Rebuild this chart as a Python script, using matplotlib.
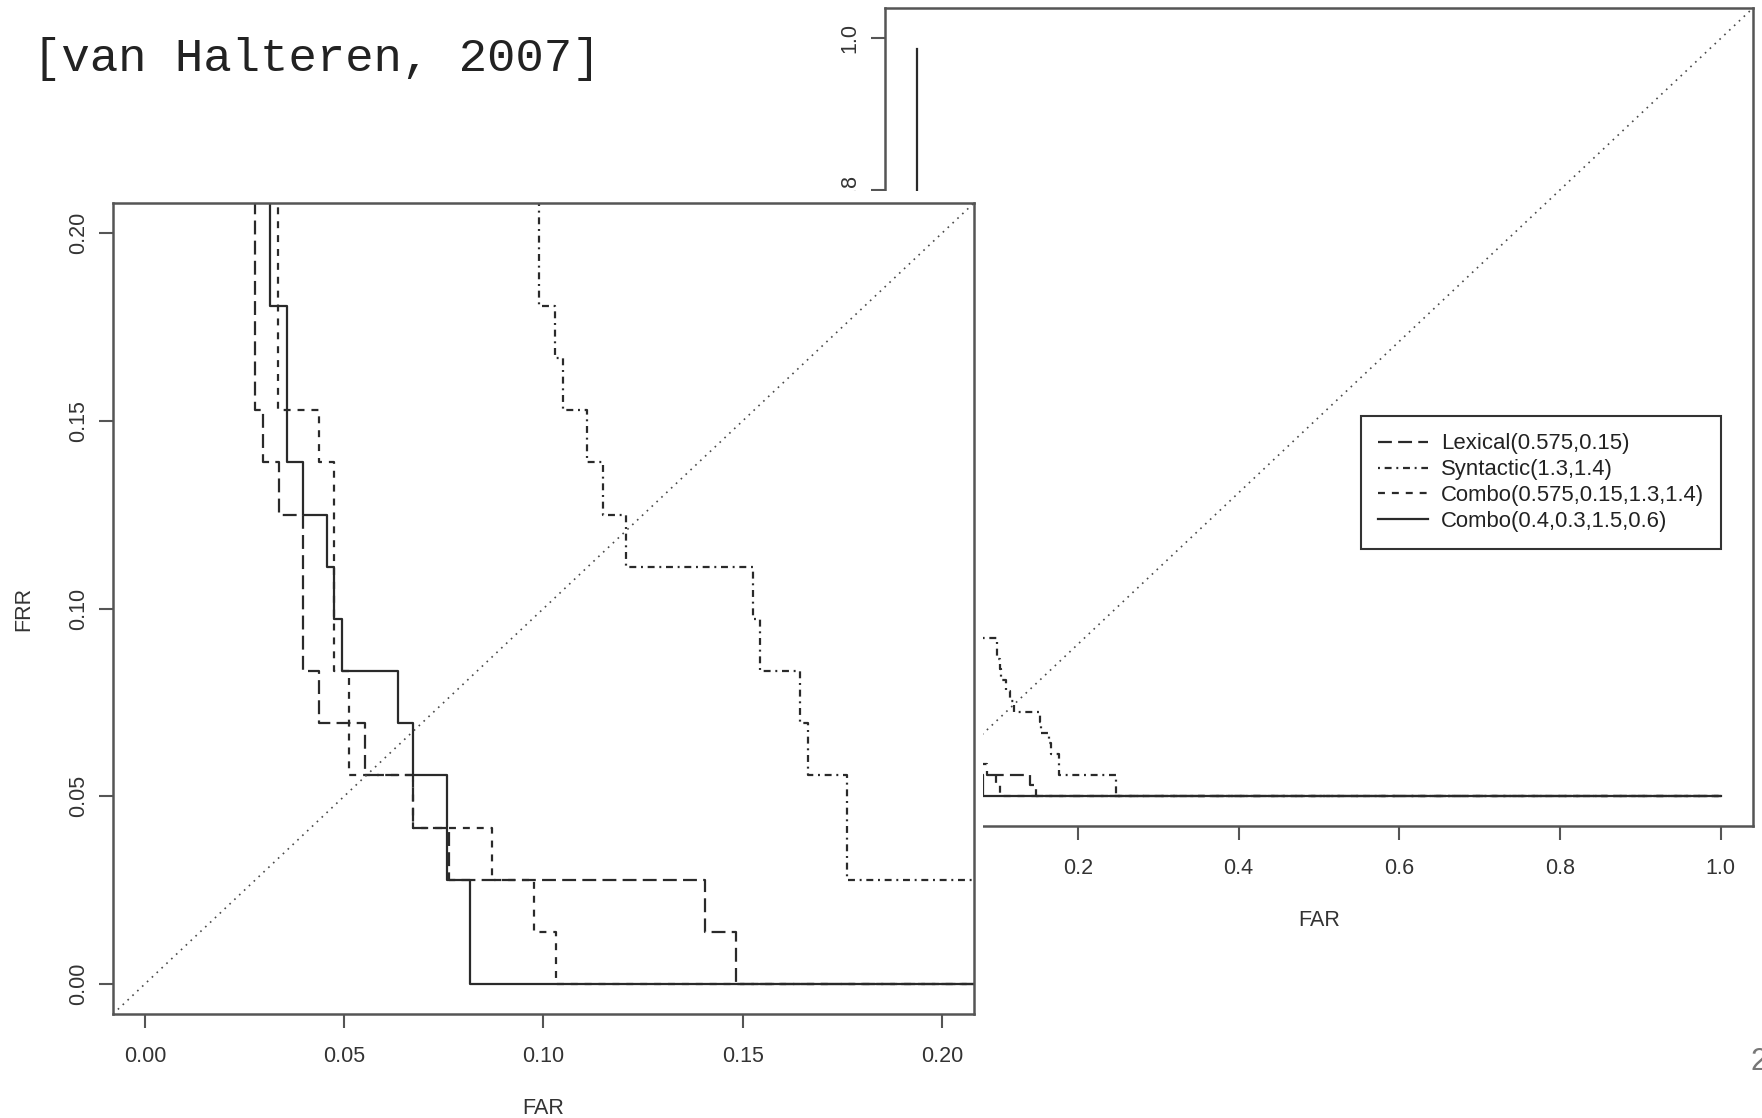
# -*- coding: utf-8 -*-

'''
FAR / FRR step curves for the verification runs (full range + zoom on the low corner)
'''

# imports
import numpy as np
import matplotlib
matplotlib.use('Agg')
import matplotlib.pyplot as plt
from matplotlib.patches import Rectangle

plt.rcParams['font.family'] = ['Liberation Sans', 'DejaVu Sans']
plt.rcParams['lines.scale_dashes'] = False

################################################################################

# FRR is counted in rejected texts out of N_TRUE
N_TRUE = 72

# step curves: FAR of each vertical drop, and the FRR count of the level that leads to it
lexical_far = [0.0277, 0.0296, 0.0336, 0.0396, 0.0436, 0.0551, 0.0672, 0.0763, 0.1406, 0.1484, 1.0]
lexical_err = [22, 11, 10, 9, 6, 5, 4, 3, 2, 1, 0]

syntactic_far = [0.060, 0.0989, 0.1029, 0.1049, 0.1109, 0.1150, 0.1207, 0.1526, 0.1543, 0.1643,
                 0.1664, 0.1762, 0.248, 1.0]
syntactic_err = [22, 15, 13, 12, 11, 10, 9, 8, 7, 6, 5, 4, 2, 0]

combo1_far = [0.0333, 0.0436, 0.0474, 0.0511, 0.0672, 0.0871, 0.0975, 0.1031, 1.0]
combo1_err = [22, 11, 10, 6, 4, 3, 2, 1, 0]

combo2_far = [0.0, 0.0315, 0.0357, 0.0396, 0.0457, 0.0474, 0.0495, 0.0634, 0.0672, 0.0757, 0.0815, 1.0]
combo2_err = [71, 22, 13, 10, 9, 8, 7, 6, 5, 4, 2, 0]

labels = ['Lexical(0.575,0.15)', 'Syntactic(1.3,1.4)',
          'Combo(0.575,0.15,1.3,1.4)', 'Combo(0.4,0.3,1.5,0.6)']

zoom_ticks = [0.00, 0.05, 0.10, 0.15, 0.20]
full_ticks = [0.0, 0.2, 0.4, 0.6, 0.8, 1.0]

################################################################################

LINE = '#2a2a2a'
FRAME = '#555555'
FS = 15.5

# R line types: longdash, dotdash, dashed, solid
styles = [
    dict(dashes=(10, 4.5)),
    dict(dashes=(1.4, 3.4, 5, 3.4)),
    dict(dashes=(5, 5)),
    dict(linestyle='-'),
]

def r_limits(lo, hi):
    pad = 0.04 * (hi - lo)
    return lo - pad, hi + pad

def draw_curves(ax):
    curves = [(lexical_far, lexical_err), (syntactic_far, syntactic_err),
              (combo1_far, combo1_err), (combo2_far, combo2_err)]
    for (far, err), style, label in zip(curves, styles, labels):
        frr = np.array(err) / N_TRUE
        ax.plot(far, frr, drawstyle='steps-pre', color=LINE, lw=1.6, label=label, **style)
    ax.axline((0, 0), slope=1, color='#4a4a4a', lw=1.2, dashes=(1.2, 3.6))

def style_axes(ax, ticks, fmt):
    for s in ax.spines.values():
        s.set_color(FRAME)
        s.set_linewidth(1.8)
    ax.set_xticks(ticks)
    ax.set_yticks(ticks)
    ax.set_xticklabels([fmt.format(t) for t in ticks])
    ax.set_yticklabels([fmt.format(t) for t in ticks], rotation=90, va='center')
    ax.tick_params(length=10, width=1.5, color=FRAME, labelsize=FS, labelcolor='#333333')
    ax.tick_params(axis='x', pad=13)
    ax.tick_params(axis='y', pad=7.5)
    ax.set_xlabel('FAR', fontsize=FS, color='#333333', labelpad=22)

################################################################################

if __name__ == "__main__":

    fig = plt.figure(figsize=(17.62, 11.18), dpi=100)
    W, H = 1762.0, 1118.0

    # full range plot, in the back
    ax_full = fig.add_axes([885 / W, 1 - 826 / H, 868 / W, 818 / H], zorder=0)
    draw_curves(ax_full)
    ax_full.set_xlim(r_limits(0, 1))
    ax_full.set_ylim(r_limits(0, 1))
    style_axes(ax_full, full_ticks, '{:.1f}')
    leg = ax_full.legend(loc='upper left', bbox_to_anchor=(0.548, 0.501), fontsize=15.9,
                         frameon=True, fancybox=False, edgecolor='#333333', framealpha=1,
                         handlelength=2.25, handletextpad=0.6, labelspacing=0.22,
                         borderpad=0.78, borderaxespad=0)
    leg.get_frame().set_linewidth(1.5)
    for t in leg.get_texts():
        t.set_color('#222222')

    # white sheet under the zoomed plot
    sheet = Rectangle((0, 0), 983 / W, 1 - 191 / H, transform=fig.transFigure,
                      facecolor='white', edgecolor='none', zorder=1)
    fig.add_artist(sheet)

    # zoom on the low error corner, in front
    ax_zoom = fig.add_axes([113 / W, 1 - 1014 / H, 861 / W, 811 / H], zorder=2)
    draw_curves(ax_zoom)
    ax_zoom.set_xlim(r_limits(0, 0.2))
    ax_zoom.set_ylim(r_limits(0, 0.2))
    style_axes(ax_zoom, zoom_ticks, '{:.2f}')
    ax_zoom.set_ylabel('FRR', fontsize=FS, color='#333333', labelpad=24)

    fig.text(33 / W, 1 - 59 / H, '[van Halteren, 2007]', fontsize=34.1,
             family=['Liberation Mono', 'DejaVu Sans Mono'], color='#222222',
             ha='left', va='center')
    fig.text(1751 / W, 1 - 1062 / H, '2', fontsize=22, color='#777777', ha='left', va='center')

    fig.savefig('out.png', dpi=100)
